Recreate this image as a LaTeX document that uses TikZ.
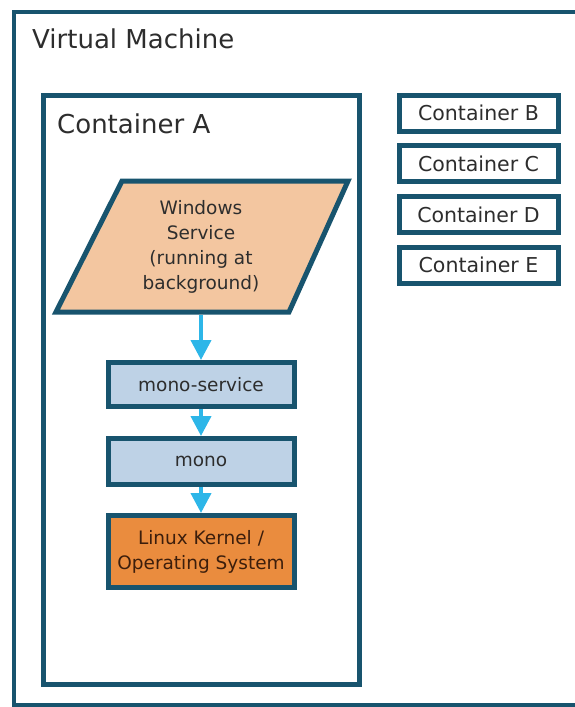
\documentclass[tikz,border=0pt]{standalone}
\usepackage{fontspec}
\setmainfont{DejaVu Sans}
\usetikzlibrary{arrows.meta}

\definecolor{frameblue}{RGB}{24,84,110}
\definecolor{peach}{RGB}{243,198,160}
\definecolor{monoblue}{RGB}{190,210,230}
\definecolor{kernelorange}{RGB}{234,140,62}
\definecolor{flowcyan}{RGB}{45,182,232}
\definecolor{textgrey}{RGB}{45,45,45}
\definecolor{kerneltext}{RGB}{60,30,12}

\begin{document}
\begin{tikzpicture}[x=1pt,y=-1pt,>={Triangle[width=20pt,length=20pt]}]
  \tikzstyle{frame}=[rectangle,draw=frameblue,line width=5pt,inner sep=0pt]
  \tikzstyle{box}=[frame,fill=monoblue,minimum width=186pt,text=textgrey,
    align=center,font=\fontsize{18.5}{25}\selectfont]
  \tikzstyle{cont}=[frame,minimum width=159pt,minimum height=36pt,text=textgrey,
    font=\fontsize{20.5}{24}\selectfont]
  \tikzstyle{title}=[anchor=base west,inner sep=0pt,text=textgrey,
    font=\fontsize{26}{30}\selectfont]
  \tikzstyle{flow}=[->,draw=flowcyan,fill=flowcyan,line width=4pt]

\useasboundingbox (0,0) rectangle (574,707);

\begin{scope}
% outer frames
\node[frame,line width=4pt,minimum width=586pt,minimum height=693pt] (vm) at (307,358.5) {};
\node[title] (vmtitle) at (32,48) {Virtual Machine};

\node[frame,minimum width=316pt,minimum height=589pt] (conta) at (201,390) {};
\node[title] (contatitle) at (57,133) {Container A};

\foreach \n/\y/\t in {contb/113/B, contc/163.5/C, contd/214.5/D, conte/265/E} {
  \node[cont] (\n) at (478.5,\y) {Container \t};
}

% stack inside container A
\draw[frame,fill=peach] (122,181) -- (348,181) -- (289,312) -- (56,312) -- cycle;
\node[align=center,text=textgrey,minimum height=131pt,inner sep=0pt,
  font=\fontsize{18.5}{25}\selectfont] (winsvc) at (201,246.5)
  {Windows\\Service\\(running at\\background)};

\node[box,minimum height=44pt] (monosvc) at (201,384.5) {mono-service};
\node[box,minimum height=46pt] (mono) at (201,461.5) {mono};
\node[box,minimum height=72pt,fill=kernelorange,text=kerneltext] (kernel) at (201,551.5)
  {Linux Kernel /\\Operating System};

\draw[flow,shorten <=2.5pt] (winsvc.south) -- (monosvc);
\draw[flow] (monosvc) -- (mono);
\draw[flow] (mono) -- (kernel);
\end{scope}
\end{tikzpicture}
\end{document}
